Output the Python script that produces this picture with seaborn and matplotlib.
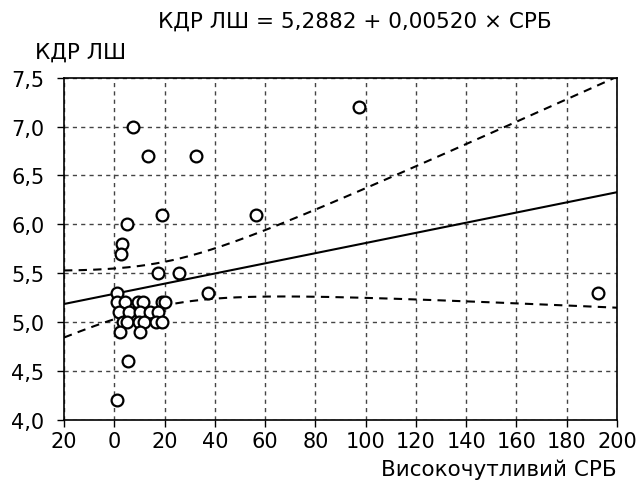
import numpy as np
import pandas as pd
import seaborn as sns
import matplotlib.pyplot as plt

# points
crp = [7.3, 13.4, 32.5, 19.0, 4.9, 3.1, 2.8, 17.5, 25.6, 37.2, 0.9, 1.2, 4.4, 9.4, 11.3,
       19.0, 20.3, 2.0, 5.7, 10.2, 14.2, 17.5, 3.6, 5.1, 10.0, 11.8, 16.6, 19.0, 2.3, 10.2,
       5.5, 0.9, 97.3, 56.4, 192.3]
kdr = [7.0, 6.7, 6.7, 6.1, 6.0, 5.8, 5.7, 5.5, 5.5, 5.3, 5.3, 5.2, 5.2, 5.2, 5.2,
       5.2, 5.2, 5.1, 5.1, 5.1, 5.1, 5.1, 5.0, 5.0, 5.0, 5.0, 5.0, 5.0, 4.9, 4.9,
       4.6, 4.2, 7.2, 6.1, 5.3]

intercept = 5.2882
slope = 0.00520

x_ticks = [-20, 0, 20, 40, 60, 80, 100, 120, 140, 160, 180, 200]
x_labels = ["20", "0", "20", "40", "60", "80", "100", "120", "140", "160", "180", "200"]
y_ticks = [4.0, 4.5, 5.0, 5.5, 6.0, 6.5, 7.0, 7.5]
y_labels = ["4,0", "4,5", "5,0", "5,5", "6,0", "6,5", "7,0", "7,5"]

df = pd.DataFrame({"crp": crp, "kdr": kdr})

# fitted line and 95% confidence band of the mean
x = np.array(crp)
n = len(x)
resid = np.array(kdr) - (intercept + slope * x)
s = np.sqrt((resid ** 2).sum() / (n - 2))
sxx = ((x - x.mean()) ** 2).sum()
xg = np.linspace(-20, 200, 200)
yg = intercept + slope * xg
half = 2.03 * s * np.sqrt(1 / n + (xg - x.mean()) ** 2 / sxx)
fit = pd.DataFrame({"x": xg, "y": yg, "lo": yg - half, "hi": yg + half})

sns.set_style("white")
plt.rcParams["font.family"] = ["DejaVu Sans"]
plt.rcParams["text.color"] = "black"

fig = plt.figure(figsize=(6.37, 4.89), dpi=100)
ax = fig.add_axes([0.1005, 0.1397, 0.8681, 0.6993])

sns.lineplot(data=fit, x="x", y="y", ax=ax, color="black", lw=1.5)
sns.lineplot(data=fit, x="x", y="lo", ax=ax, color="black", lw=1.5, dashes=False,
             linestyle=(0, (4, 3)))
sns.lineplot(data=fit, x="x", y="hi", ax=ax, color="black", lw=1.5, dashes=False,
             linestyle=(0, (4, 3)))
sns.scatterplot(data=df, x="crp", y="kdr", ax=ax, s=72, facecolor="white",
                edgecolor="black", linewidth=1.6, zorder=5)

ax.set_xlim(-20, 200)
ax.set_ylim(4.0, 7.5)
ax.set_xticks(x_ticks, x_labels)
ax.set_yticks(y_ticks, y_labels)
ax.grid(True, color="#444444", linestyle=(0, (3, 3)), lw=1)
ax.tick_params(direction="out", length=5, width=1, labelsize=15, color="black",
               labelcolor="black", left=True, bottom=True)
ax.tick_params(axis="y", pad=9)
ax.tick_params(axis="x", pad=3)
for sp in ax.spines.values():
    sp.set_color("black")
    sp.set_linewidth(1.2)
ax.set_xlabel("")
ax.set_ylabel("")

fig.text(0.557, 0.956, "КДР ЛШ = 5,2882 + 0,00520 × СРБ", ha="center", va="center", fontsize=15.5)
fig.text(0.055, 0.893, "КДР ЛШ", ha="left", va="center", fontsize=15.5)
fig.text(0.9686, 0.04, "Високочутливий СРБ", ha="right", va="center", fontsize=15.5)

fig.savefig("out.png", dpi=100)
